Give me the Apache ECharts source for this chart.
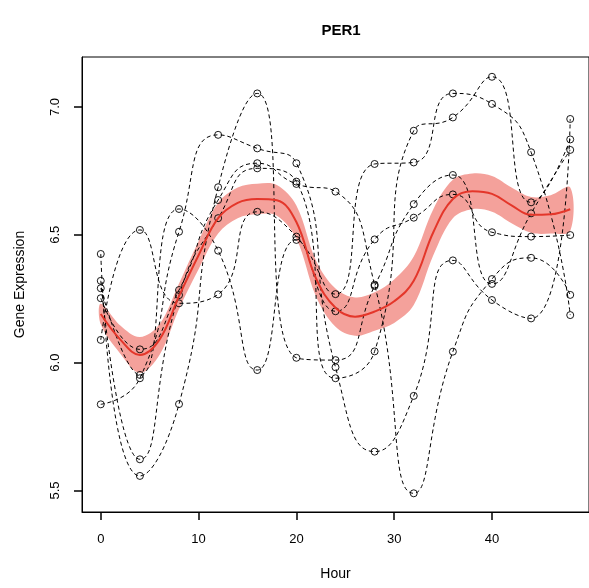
<!DOCTYPE html>
<html>
<head>
<meta charset="utf-8">
<script src="https://cdn.jsdelivr.net/npm/echarts@6/dist/echarts.min.js"></script>
<style>html,body{margin:0;padding:0;background:#fff;}#c{width:589px;height:588px;background:#fff;}</style>
</head>
<body>
<div id="c"></div>
<script>
// sampling hours
const hours = [0, 4, 8, 12, 16, 20, 24, 28, 32, 36, 40, 44, 48];
// replicate profiles (Gene Expression)
const rep1 = [6.089, 6.519, 6.232, 6.267, 6.590, 6.493, 6.268, 6.777, 6.783, 7.053, 7.012, 6.823, 6.186];
const rep2 = [5.837, 5.939, 6.512, 6.891, 6.838, 6.780, 5.982, 5.652, 5.870, 6.400, 6.245, 6.173, 6.953];
const rep3 = [6.425, 5.557, 5.838, 6.686, 7.053, 6.019, 6.010, 6.300, 6.620, 6.734, 6.308, 6.584, 6.832];
const rep4 = [6.320, 5.622, 6.264, 6.565, 6.760, 6.708, 5.939, 6.044, 6.907, 6.959, 7.118, 6.627, 6.873];
const rep5 = [6.252, 6.052, 6.284, 6.636, 6.780, 6.699, 6.669, 6.305, 5.489, 6.043, 6.327, 6.410, 6.265];
const rep6 = [6.291, 5.952, 6.601, 6.438, 5.971, 6.480, 6.201, 6.482, 6.567, 6.658, 6.510, 6.493, 6.499];
// fitted curve and confidence band
const fitHours = [0, 2, 4, 6, 8, 10, 12, 14, 16, 18, 20, 22, 24, 26, 28, 30, 32, 34, 36, 38, 40, 42, 44, 46, 48];
const fitMean  = [6.19, 6.09, 6.03, 6.09, 6.26, 6.42, 6.565, 6.625, 6.64, 6.635, 6.55, 6.33, 6.215, 6.18, 6.20, 6.24, 6.32, 6.51, 6.64, 6.67, 6.66, 6.615, 6.578, 6.58, 6.60];
const fitLower = [6.15, 6.035, 5.96, 6.03, 6.21, 6.365, 6.505, 6.565, 6.58, 6.575, 6.485, 6.26, 6.14, 6.105, 6.125, 6.155, 6.225, 6.42, 6.565, 6.60, 6.59, 6.545, 6.508, 6.505, 6.515];
const fitUpper = [6.23, 6.145, 6.10, 6.15, 6.31, 6.475, 6.625, 6.685, 6.70, 6.695, 6.615, 6.40, 6.29, 6.255, 6.275, 6.325, 6.415, 6.60, 6.715, 6.74, 6.73, 6.685, 6.648, 6.655, 6.685];
// axis ticks and limits
const xTicks = [0, 10, 20, 30, 40];
const yTicks = [5.5, 6.0, 6.5, 7.0];
const X_MIN = -1.92, X_MAX = 49.92;
const Y_MIN = 5.4159, Y_MAX = 7.1954;

const reps = [rep1, rep2, rep3, rep4, rep5, rep6];
const FONT = 'Liberation Sans, Arial, Helvetica, sans-serif';
const TICK_LEN = 8;

const chart = echarts.init(document.getElementById('c'));

const series = [];
series.push({
  type: 'custom', name: 'band', silent: true, z: 1,
  data: fitHours.map((h, i) => [h, fitLower[i], fitUpper[i]]),
  encode: {x: 0, y: [1, 2]},
  renderItem: function (params, api) {
    if (params.dataIndex !== 0) return null;
    const upper = fitHours.map((h, i) => api.coord([h, fitUpper[i]]));
    const lower = fitHours.map((h, i) => api.coord([h, fitLower[i]])).reverse();
    return {
      type: 'polygon',
      shape: {points: upper.concat(lower), smooth: 0.35},
      style: {fill: '#F4A19B', stroke: null}
    };
  }
});
reps.forEach((r, k) => {
  series.push({
    type: 'line', name: 'rep' + (k + 1), smooth: 0.55,
    data: hours.map((h, i) => [h, r[i]]),
    symbol: 'circle', symbolSize: 7,
    itemStyle: {color: 'rgba(0,0,0,0)', borderColor: '#000', borderWidth: 0.9},
    lineStyle: {color: '#000', width: 1, type: [4, 3]},
    z: 3
  });
});
series.push({
  type: 'line', name: 'fit', smooth: 0.4, symbol: 'none',
  data: fitHours.map((h, i) => [h, fitMean[i]]),
  lineStyle: {color: '#E4362A', width: 2}, z: 4
});

chart.setOption({
  animation: false,
  title: {
    text: 'PER1', left: 336, top: 18, textAlign: 'center',
    textStyle: {fontFamily: FONT, fontSize: 15, fontWeight: 'bold', color: '#000'}
  },
  grid: {left: 82, right: -2, top: 57, bottom: 76, show: true, borderColor: '#000', borderWidth: 1},
  xAxis: {
    type: 'value', min: X_MIN, max: X_MAX,
    name: 'Hour', nameLocation: 'middle', nameGap: 55,
    nameTextStyle: {fontFamily: FONT, fontSize: 14, color: '#000'},
    axisLine: {show: true, onZero: false, lineStyle: {color: '#000'}},
    axisTick: {show: true, length: TICK_LEN, customValues: xTicks, lineStyle: {color: '#000', width: 1.5}},
    axisLabel: {customValues: xTicks, margin: 21, fontFamily: FONT, fontSize: 13, color: '#000', formatter: v => String(Math.round(v))},
    splitLine: {show: false}
  },
  yAxis: {
    type: 'value', min: Y_MIN, max: Y_MAX,
    name: 'Gene Expression', nameLocation: 'middle', nameGap: 55, nameRotate: 90,
    nameTextStyle: {fontFamily: FONT, fontSize: 14, color: '#000'},
    axisLine: {show: true, onZero: false, lineStyle: {color: '#000'}},
    axisTick: {show: true, length: TICK_LEN, customValues: yTicks, lineStyle: {color: '#000', width: 1.5}},
    axisLabel: {customValues: yTicks, rotate: 90, margin: 20, fontFamily: FONT, fontSize: 13, color: '#000', formatter: v => v.toFixed(1)},
    splitLine: {show: false}
  },
  series: series
});
</script>
</body>
</html>
